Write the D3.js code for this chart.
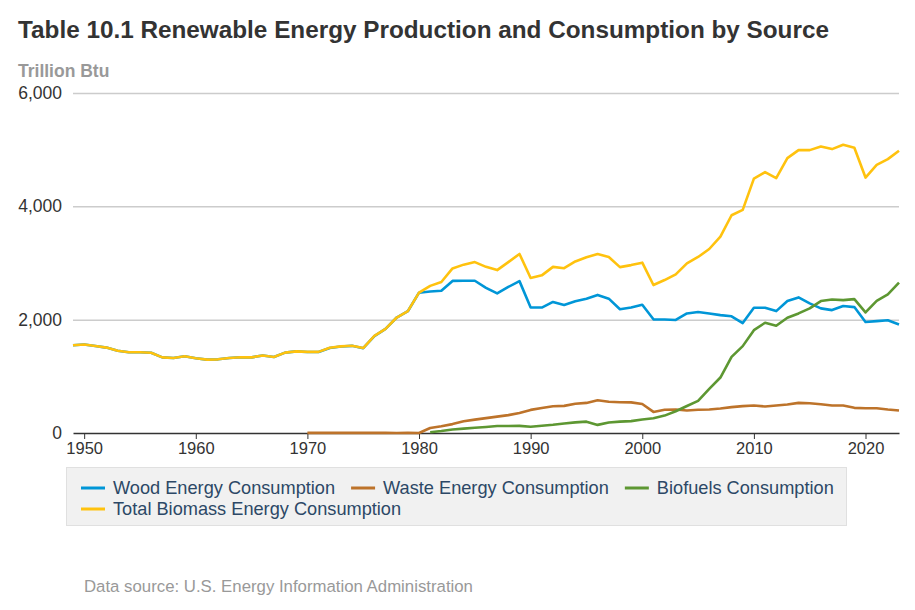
<!DOCTYPE html>
<html>
<head>
<meta charset="utf-8">
<script src="https://cdn.jsdelivr.net/npm/d3@7"></script>
<style>
  body { margin: 0; background: #fff; font-family: "Liberation Sans", Arial, sans-serif; }
  .grid line { stroke: #cccccc; }
  .tick text { fill: #333; }
</style>
</head>
<body>
<div id="wrapper"></div>
<script>
// Data
const years = d3.range(1949, 2024)

const wood = [
  1549, 1562, 1535, 1507, 1452, 1424, 1424, 1416, 1334, 1323,
  1353, 1320, 1295, 1300, 1323, 1337, 1335, 1369, 1340, 1419,
  1440, 1429, 1430, 1501, 1527, 1538, 1497, 1711, 1836, 2038,
  2149, 2476, 2496, 2510, 2684, 2686, 2687, 2562, 2463, 2577,
  2680, 2216, 2214, 2313, 2260, 2324, 2370, 2437, 2371, 2184,
  2214, 2262, 2006, 2004, 1995, 2110, 2134, 2110, 2080, 2060,
  1940, 2210, 2210, 2151, 2328, 2393, 2287, 2199, 2169, 2240,
  2222, 1960, 1975, 1990, 1916
]
// 1970 onwards
const waste = [
  2, 2, 2, 2, 2, 2, 2, 2, 0, 3,
  0, 88, 119, 157, 208, 236, 263, 289, 315, 354,
  408, 440, 473, 479, 515, 531, 577, 551, 542, 540,
  511, 372, 410, 415, 398, 410, 415, 433, 457, 474,
  485, 468, 485, 503, 531, 525, 507, 484, 484, 444,
  438, 438, 415, 398
]
// 1981 onwards
const biofuels = [
  13, 34, 63, 77, 93, 107, 123, 124, 125, 111,
  129, 145, 169, 188, 200, 143, 184, 201, 209, 237,
  260, 307, 383, 477, 566, 778, 979, 1344, 1533, 1815,
  1945, 1892, 2033, 2110, 2199, 2328, 2357, 2345, 2363, 2128,
  2333, 2446, 2652
]
const total = [
  1549, 1562, 1535, 1507, 1452, 1424, 1424, 1416, 1334, 1323,
  1353, 1320, 1295, 1300, 1323, 1337, 1335, 1369, 1340, 1419,
  1440, 1431, 1432, 1503, 1529, 1540, 1499, 1713, 1838, 2038,
  2152, 2476, 2596, 2664, 2904, 2971, 3016, 2932, 2875, 3016,
  3160, 2735, 2782, 2932, 2908, 3028, 3101, 3157, 3105, 2927,
  2963, 3006, 2611, 2699, 2800, 2994, 3106, 3247, 3465, 3843,
  3937, 4490, 4603, 4497, 4850, 4992, 4992, 5056, 5010, 5086,
  5033, 4508, 4732, 4833, 4980
]

const seriesNames = [
  "Wood Energy Consumption",
  "Waste Energy Consumption",
  "Biofuels Consumption",
  "Total Biomass Energy Consumption"
]
const seriesColors = ["#0096d7", "#bd732a", "#5d9732", "#ffc20e"]
const seriesStart = [1949, 1970, 1981, 1949]
const seriesValues = [wood, waste, biofuels, total]

const yTicks = [0, 2000, 4000, 6000]
const xTicks = [1950, 1960, 1970, 1980, 1990, 2000, 2010, 2020]

// dimensions
const dimensions = {
  width: 915,
  height: 610,
  margin: { top: 93, right: 16, bottom: 177, left: 73 },
}
dimensions.boundedWidth = dimensions.width - dimensions.margin.left - dimensions.margin.right
dimensions.boundedHeight = dimensions.height - dimensions.margin.top - dimensions.margin.bottom

const wrapper = d3.select("#wrapper")
  .append("svg")
    .attr("width", dimensions.width)
    .attr("height", dimensions.height)

const bounds = wrapper.append("g")
  .attr("transform", `translate(${dimensions.margin.left}, ${dimensions.margin.top})`)

// scales
const xScale = d3.scaleLinear()
  .domain([1949, 2023])
  .range([0, dimensions.boundedWidth])

const yScale = d3.scaleLinear()
  .domain([0, 6000])
  .range([dimensions.boundedHeight, 0])

// title
wrapper.append("text")
  .attr("x", 18)
  .attr("y", 38)
  .attr("font-size", 24.3)
  .attr("font-weight", "bold")
  .attr("fill", "#333")
  .text("Table 10.1 Renewable Energy Production and Consumption by Source")

wrapper.append("text")
  .attr("x", 18)
  .attr("y", 77)
  .attr("font-size", 17.5)
  .attr("font-weight", "bold")
  .attr("fill", "#999")
  .text("Trillion Btu")

// grid + y axis
const yAxis = d3.axisLeft(yScale)
  .tickValues(yTicks)
  .tickSize(-dimensions.boundedWidth)
  .tickFormat(d3.format(","))
const yAxisGroup = bounds.append("g")
  .attr("class", "grid")
  .call(yAxis)
yAxisGroup.select(".domain").remove()
yAxisGroup.selectAll("text")
  .attr("x", -11)
  .attr("font-size", 17.5)
  .attr("font-family", "Liberation Sans, Arial, sans-serif")
yAxisGroup.selectAll("line")
  .attr("stroke-width", 1.5)
  .filter(d => d == 0).remove()

// x axis
const xAxis = d3.axisBottom(xScale)
  .tickValues(xTicks)
  .tickSize(6)
  .tickSizeOuter(0)
  .tickFormat(d3.format("d"))
const xAxisGroup = bounds.append("g")
  .attr("transform", `translate(0, ${dimensions.boundedHeight})`)
  .call(xAxis)
xAxisGroup.select(".domain")
  .attr("stroke", "#333")
  .attr("stroke-width", 1.5)
xAxisGroup.selectAll("line").attr("stroke", "#333")
xAxisGroup.selectAll("text")
  .attr("y", 9)
  .attr("font-size", 16.5)
  .attr("font-family", "Liberation Sans, Arial, sans-serif")

// lines
const lineGenerator = d3.line()
  .x(d => xScale(d.year))
  .y(d => yScale(d.value))

const seriesData = seriesValues.map((values, i) => (
  values.map((value, j) => ({ year: seriesStart[i] + j, value }))
))

bounds.append("g").selectAll(".series-line")
  .data(seriesData)
  .enter().append("path")
    .attr("class", "series-line")
    .attr("d", lineGenerator)
    .attr("fill", "none")
    .attr("stroke", (d, i) => seriesColors[i])
    .attr("stroke-width", 2.6)
    .attr("stroke-linejoin", "round")

// legend
const legendBox = { x: 66, y: 467, width: 780, height: 58 }
const legendGroup = wrapper.append("g")
legendGroup.append("rect")
  .attr("x", legendBox.x + 0.5)
  .attr("y", legendBox.y + 0.5)
  .attr("width", legendBox.width)
  .attr("height", legendBox.height)
  .attr("fill", "#f1f1f1")
  .attr("stroke", "#e0e0e0")

const swatchWidth = 24
let legendX = legendBox.x + 15
let legendY = legendBox.y + 21
seriesNames.forEach((name, i) => {
  const item = legendGroup.append("g")
  item.append("line")
    .attr("x1", 0)
    .attr("x2", swatchWidth)
    .attr("stroke", seriesColors[i])
    .attr("stroke-width", 3)
  const label = item.append("text")
    .attr("x", swatchWidth + 8)
    .attr("dy", "0.35em")
    .attr("font-size", 18.2)
    .attr("fill", "#2c4866")
    .text(name)
  const itemWidth = swatchWidth + 8 + label.node().getComputedTextLength()
  if (legendX + itemWidth > legendBox.x + legendBox.width - 5) {
    legendX = legendBox.x + 15
    legendY += 21
  }
  item.attr("transform", `translate(${legendX}, ${legendY})`)
  legendX += itemWidth + 16
})

// source
wrapper.append("text")
  .attr("x", 84)
  .attr("y", 592)
  .attr("font-size", 16.8)
  .attr("fill", "#999")
  .text("Data source: U.S. Energy Information Administration")
</script>
</body>
</html>
